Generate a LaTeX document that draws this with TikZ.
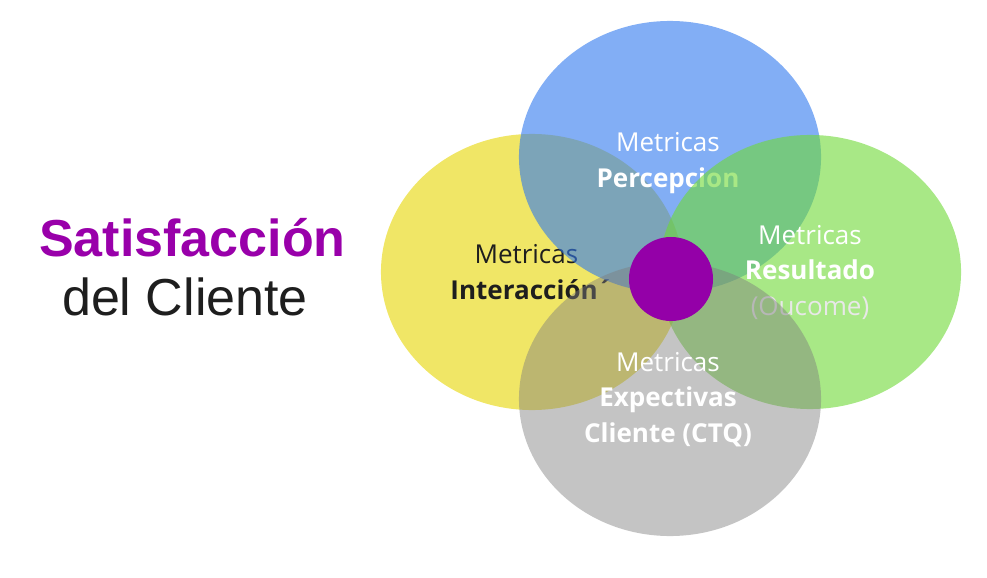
\documentclass[tikz,border=0pt]{standalone}
\usepackage{fontspec}
\setmainfont{Open Sans}
\newfontfamily\titlefont{Liberation Sans}
\usetikzlibrary{shapes.geometric}
\definecolor{petalyellow}{RGB}{230,213,0}
\definecolor{petalblue}{RGB}{47,120,238}
\definecolor{petalgreen}{RGB}{110,217,53}
\definecolor{petalgray}{RGB}{125,125,125}
\definecolor{hubpurple}{RGB}{148,0,168}
\definecolor{satpurple}{RGB}{153,0,170}
\definecolor{labeldark}{RGB}{30,30,30}
\definecolor{oucome}{RGB}{232,232,232}
\tikzset{
    petal/.style={
        ellipse,
        fill opacity=0.6,
        inner sep=0pt,
        minimum width=7.55cm,
    },
    metric/.style={
        align=center,
        anchor=base,
        font=\fontsize{18.5}{24.9}\selectfont,
        text=white,
    },
    titletext/.style={
        anchor=base,
        inner sep=0pt,
    }
}

\begin{document}
\begin{tikzpicture}[x=0.025cm, y=-0.025cm]
        \useasboundingbox (0,0) rectangle (987,578);
        \node[titletext, font=\titlefont\bfseries\fontsize{37}{44}\selectfont, text=satpurple] (title) at (192.5,256) {Satisfacción};
        \node[titletext, font=\titlefont\fontsize{37}{44}\selectfont, text=labeldark] (subtitle) at (185,315) {del Cliente};
        % petals, each with its label before the next petal
        \node[petal, fill=petalyellow, minimum height=6.9cm] (inter) at (532,272) {};
        \node[metric, text=labeldark] (interlabel) at (532,299) {\hspace{-8pt}Metricas\\\textbf{Interacción´}};
        \node[petal, fill=petalblue, minimum height=6.8cm] (percep) at (670,157) {};
        \node[metric] (perceplabel) at (668,187) {Metricas\\\textbf{Percepcion}};
        \node[petal, fill=petalgreen, minimum height=6.85cm] (result) at (810,272) {};
        \node[metric] (resultlabel) at (810,315) {Metricas\\\textbf{Resultado}\\{\color{oucome}(Oucome)}};
        \node[petal, fill=petalgray, fill opacity=0.45, minimum height=6.85cm] (expect) at (670,399) {};
        \node[metric] (expectlabel) at (668,442) {Metricas\\\textbf{Expectivas}\\\textbf{Cliente (CTQ)}};
        \node[circle, fill=hubpurple, minimum size=2.1cm, inner sep=0pt] (hub) at (671,279) {};
\end{tikzpicture}
\end{document}
